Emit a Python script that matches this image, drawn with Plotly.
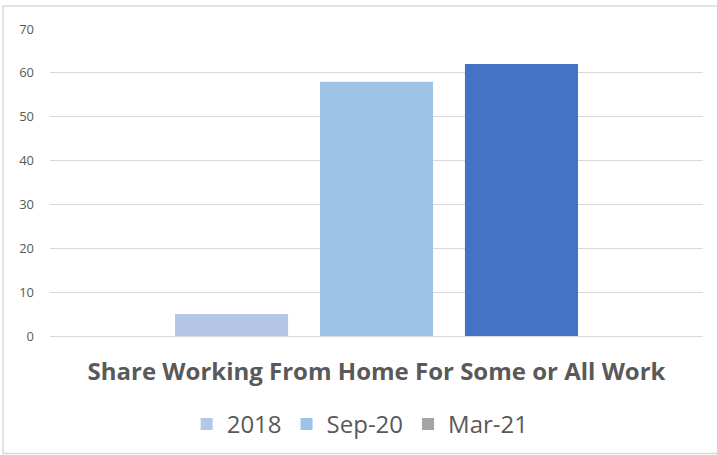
import plotly.graph_objects as go

categories = ["Share Working From Home For Some or All Work"]
series_names = ["2018", "Sep-20", "Mar-21"]
values_2018 = [5]
values_sep20 = [58]
values_mar21 = [62]
bar_colors = ["#b4c7e7", "#9dc3e6", "#4472c4"]
legend_colors = ["#b4c7e7", "#9dc3e6", "#a5a5a5"]
y_ticks = [0, 10, 20, 30, 40, 50, 60, 70]

series_values = [values_2018, values_sep20, values_mar21]

fig = go.Figure()
for name, vals, col in zip(series_names, series_values, bar_colors):
    fig.add_trace(go.Bar(x=categories, y=vals, name=name, marker=dict(color=col, line=dict(width=0)),
                         showlegend=False))
for name, col in zip(series_names, legend_colors):
    fig.add_trace(go.Scatter(x=[None], y=[None], mode="markers", name=name,
                             marker=dict(symbol="square", size=12, color=col)))

fig.update_layout(
    width=717, height=455,
    margin=dict(l=50, r=14, t=29, b=119, autoexpand=False),
    paper_bgcolor="white", plot_bgcolor="white",
    barmode="group", bargap=0.334, bargroupgap=0.22,
    font=dict(family="Open Sans, Liberation Sans, sans-serif", color="#595959"),
    legend=dict(orientation="h", x=0.475, xanchor="center", y=-0.288, yanchor="middle",
                font=dict(size=24, color="#595959"), itemwidth=30, tracegroupgap=0),
    xaxis=dict(showgrid=False, showline=False, ticks="", ticklabelstandoff=19, automargin=False,
               tickfont=dict(size=24, color="#595959", family="Open Sans, sans-serif", weight="bold")),
    yaxis=dict(range=[0, 70], tickvals=y_ticks, showgrid=True, gridcolor="#d9d9d9", gridwidth=1,
               zeroline=True, zerolinecolor="#d9d9d9", zerolinewidth=1, automargin=False,
               tickfont=dict(size=13, color="#595959"), ticklabelstandoff=15),
)
fig.add_shape(type="rect", xref="paper", yref="paper",
              x0=-47/654, x1=(717 - 50 + 3) / 653, y0=(336 - 453.5) / 307, y1=(336 - 6) / 307,
              line=dict(color="#d9d9d9", width=1.5), fillcolor="rgba(0,0,0,0)", layer="below")

fig.write_html("out.html", config={"displayModeBar": False},
               post_script="document.body.style.margin='0';")
